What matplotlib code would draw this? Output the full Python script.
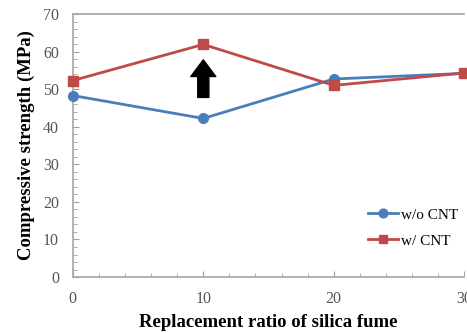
import matplotlib.pyplot as plt
from matplotlib.ticker import MultipleLocator

plt.rcParams['font.family'] = ['Liberation Serif', 'DejaVu Serif']

ratio = [0, 10, 20, 30]
wo_cnt = [48.3, 42.2, 52.7, 54.2]
w_cnt = [52.3, 61.9, 51.0, 54.3]

fig = plt.figure(figsize=(4.67, 3.33), dpi=100)
ax = fig.add_axes([0.156, 0.168, 0.838, 0.79])

ax.plot(ratio, wo_cnt, color='#4a7ebb', marker='o', markersize=7, lw=2, label='w/o CNT', clip_on=False, zorder=3)
ax.plot(ratio, w_cnt, color='#be4b48', marker='s', markersize=7, lw=2, label='w/ CNT', clip_on=False, zorder=3)

# arrow at 10%
ax.annotate('', xy=(10, 57.8), xytext=(10, 47.8),
            arrowprops=dict(facecolor='black', edgecolor='black', width=8, headwidth=18, headlength=12))

ax.set_xlim(0, 30)
ax.set_ylim(0, 70)
ax.xaxis.set_major_locator(MultipleLocator(10))
ax.xaxis.set_minor_locator(MultipleLocator(2))
ax.yaxis.set_major_locator(MultipleLocator(10))
ax.yaxis.set_minor_locator(MultipleLocator(2))
ax.tick_params(which='both', direction='in', colors='#a0a0a0', labelcolor='#555555', labelsize=11.5)
ax.tick_params(which='major', length=4)
ax.tick_params(which='minor', length=3)
ax.tick_params(axis='x', pad=10)
ax.tick_params(axis='y', pad=10)

for s in ['left', 'bottom', 'top']:
    ax.spines[s].set_color('#a6a6a6')
    ax.spines[s].set_linewidth(1.2)
ax.spines['right'].set_visible(False)

ax.set_xlabel('Replacement ratio of silica fume', fontsize=13.5, fontweight='bold', labelpad=5)
ax.set_ylabel('Compressive strength (MPa)', fontsize=13.5, fontweight='bold', labelpad=6)

ax.legend(loc='lower right', bbox_to_anchor=(1.02, 0.06), frameon=False, fontsize=11,
          handlelength=2.0, labelspacing=0.8, handletextpad=0.2, markerscale=0.9)

fig.savefig('out.png', dpi=100)
